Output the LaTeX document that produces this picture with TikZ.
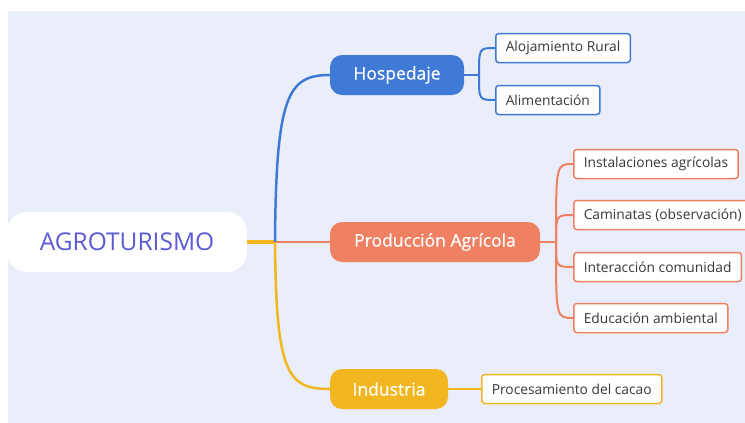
\documentclass[tikz,border=0pt]{standalone}
\usepackage{fontspec}
\setmainfont{Open Sans}
\newfontfamily\topicfont[FakeBold=0.5]{Open Sans}
\definecolor{paper}{HTML}{E9EEFA}
\definecolor{rootink}{HTML}{5A5AD8}
\definecolor{hospblue}{HTML}{3F7BD6}
\definecolor{prodorange}{HTML}{EF8062}
\definecolor{indyellow}{HTML}{F2B620}

\begin{document}
\begin{tikzpicture}[x=1pt,y=-1pt,
    topic/.style={fill=#1,text=white,rounded corners=12pt,minimum height=40pt,
      inner xsep=0pt,font=\topicfont\fontsize{17.5}{20}\selectfont},
    leaf/.style={draw=#1,line width=1.5pt,fill=white,rounded corners=3pt,anchor=west,
      minimum height=29pt,inner xsep=10pt,text=black!78,font=\fontsize{13.8}{16}\selectfont},
    branch/.style={draw=#1,line width=2pt}]
  \useasboundingbox (0,0) rectangle (745,423);
  \clip (0,0) rectangle (745,423);
  \fill[white] (0,0) rectangle (745,423);
  \fill[paper] (8,11) rectangle (745,423);

  % centre and main topics
  \node[fill=white,rounded corners=20pt,minimum width=240pt,minimum height=60pt,
    text=rootink,font=\fontsize{24.5}{28}\selectfont] (root) at (127,242) {AGROTURISMO};
  \node[topic=hospblue,minimum width=134pt] (hosp) at (397,75) {Hospedaje};
  \node[topic=prodorange,minimum width=210pt] (prod) at (435,242) {Producción Agrícola};
  \node[topic=indyellow,minimum width=118pt] (ind) at (389,389) {Industria};

  % subtopics
  \node[leaf=hospblue] (aloj) at (495,48) {Alojamiento Rural};
  \node[leaf=hospblue] (alim) at (495,100) {Alimentación};
  \node[leaf=prodorange] (inst) at (573,164) {Instalaciones agrícolas};
  \node[leaf=prodorange] (cami) at (573,215) {Caminatas (observación)};
  \node[leaf=prodorange] (inte) at (573,267) {Interacción comunidad};
  \node[leaf=prodorange] (educ) at (573,318) {Educación ambiental};
  \node[leaf=indyellow] (proc) at (481,389) {Procesamiento del cacao};

  % trunk
  \coordinate (hub) at (275,242);
  \draw[indyellow,line width=4pt] (root.east) -- (hub);
  \draw[branch=prodorange,line width=2.5pt] (hub) -- (prod.west);
  \draw[branch=hospblue,line width=2.5pt] (hub) .. controls (276,95) and (288,75) .. (hosp.west);
  \draw[branch=indyellow,line width=2.5pt] (hub) .. controls (276,375) and (288,389) .. (ind.west);

  % Hospedaje
  \coordinate (hj) at (479,75);
  \draw[branch=hospblue] (hosp.east) -- (hj);
  \draw[branch=hospblue] (hj) .. controls (479,48) .. (aloj.west);
  \draw[branch=hospblue] (hj) .. controls (479,100) .. (alim.west);

  % Produccion
  \coordinate (pj) at (556,242);
  \draw[branch=prodorange] (prod.east) -- (pj);
  \foreach \n/\y in {inst/164,cami/215,inte/267,educ/318}
    \draw[branch=prodorange] (pj) .. controls (556,\y) .. (\n.west);

  % Industria
  \draw[branch=indyellow] (ind.east) -- (proc.west);
\end{tikzpicture}
\end{document}
